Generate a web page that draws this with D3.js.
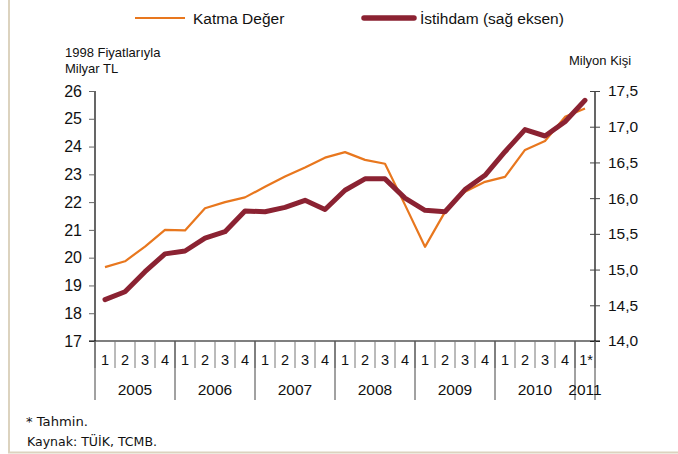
<!DOCTYPE html>
<html><head><meta charset="utf-8">
<script src="https://cdn.jsdelivr.net/npm/d3@7"></script>
<style>body{margin:0;background:#fff}svg{display:block}text{font-family:"Liberation Sans",Arial,sans-serif;fill:#111}</style>
</head><body>
<script>
const quarters = ["1","2","3","4","1","2","3","4","1","2","3","4","1","2","3","4","1","2","3","4","1","2","3","4","1*"];
const years = ["2005","2006","2007","2008","2009","2010","2011"];
const yearSpans = [4,4,4,4,4,4,1];
const katmaDeger = [19.66,19.87,20.40,21.00,20.98,21.78,22.00,22.17,22.55,22.92,23.25,23.60,23.80,23.52,23.38,21.90,20.39,21.65,22.37,22.73,22.91,23.88,24.20,25.07,25.37];
const istihdam = [14.58,14.69,14.97,15.22,15.26,15.44,15.53,15.82,15.81,15.87,15.97,15.84,16.11,16.27,16.27,16.00,15.83,15.81,16.12,16.32,16.65,16.96,16.87,17.07,17.37];
const leftTicks = [17,18,19,20,21,22,23,24,25,26];
const rightTicks = [14.0,14.5,15.0,15.5,16.0,16.5,17.0,17.5];

const W=678,H=454, L=95, R=595, T=91, B=341;
const svg = d3.select("body").append("svg").attr("width",W).attr("height",H);

// beige frame
svg.append("line").attr("x1",9).attr("x2",9).attr("y1",0).attr("y2",453).attr("stroke","#dcd3bf").attr("stroke-width",2);
svg.append("line").attr("x1",8).attr("x2",W).attr("y1",452.5).attr("y2",452.5).attr("stroke","#dcd3bf").attr("stroke-width",2);

const idx = d3.range(quarters.length);
const x = d3.scaleBand().domain(idx).range([L,R]).padding(0);
const cx = i => x(i)+x.bandwidth()/2;
const yL = d3.scaleLinear().domain([17,26]).range([B,T]);
const yR = d3.scaleLinear().domain([14,17.5]).range([B,T]);

// left axis
const gL = svg.append("g").attr("transform",`translate(${L},0)`)
  .call(d3.axisLeft(yL).tickValues(leftTicks).tickSize(6).tickPadding(7).tickFormat(d3.format("d")));
gL.select(".domain").attr("stroke","#000").attr("stroke-width",1.2).attr("d",`M0,${T}V${B}`);
gL.selectAll(".tick line").attr("stroke","#666");
gL.selectAll(".tick text").style("font-size","16px").attr("fill","#111");

// right axis
const gR = svg.append("g").attr("transform",`translate(${R},0)`)
  .call(d3.axisRight(yR).tickValues(rightTicks).tickSize(5).tickPadding(8).tickFormat(d=>d3.format(".1f")(d).replace(".",",")));
gR.select(".domain").attr("stroke","#000").attr("stroke-width",1.2).attr("d",`M0,${T}V${B}`);
gR.selectAll(".tick line").attr("stroke","#444").attr("x1",-5);
gR.selectAll(".tick text").style("font-size","15.5px").attr("fill","#111");

// bottom axis line
svg.append("line").attr("x1",L-6).attr("x2",R+5).attr("y1",B).attr("y2",B).attr("stroke","#000").attr("stroke-width",1.2);

// quarter separators
const qSep = d3.range(quarters.length+1);
svg.append("g").selectAll("line").data(qSep).join("line")
  .attr("x1",i=> i<quarters.length? x(i): R).attr("x2",i=> i<quarters.length? x(i): R)
  .attr("y1",B).attr("y2",368).attr("stroke","#777").attr("stroke-width",1);
// year separators
let cum=[0]; yearSpans.forEach(s=>cum.push(cum[cum.length-1]+s));
svg.append("g").selectAll("line").data(cum).join("line")
  .attr("x1",c=> c<quarters.length? x(c): R).attr("x2",c=> c<quarters.length? x(c): R)
  .attr("y1",B).attr("y2",400).attr("stroke","#444").attr("stroke-width",1);

// quarter labels
svg.append("g").selectAll("text").data(quarters).join("text")
  .attr("x",(d,i)=>cx(i)+(d==="1*"?1:0)).attr("y",365).attr("text-anchor","middle")
  .style("font-size","14.5px").text(d=>d);
// year labels
svg.append("g").selectAll("text").data(years).join("text")
  .attr("x",(d,i)=>(x(cum[i]) + (cum[i+1]<quarters.length? x(cum[i+1]) : R))/2)
  .attr("y",395).attr("text-anchor","middle").style("font-size","15.5px").text(d=>d);

// lines
const lineL = d3.line().x((d,i)=>cx(i)).y(d=>yL(d));
const lineR = d3.line().x((d,i)=>cx(i)).y(d=>yR(d));
svg.append("path").datum(katmaDeger).attr("d",lineL).attr("fill","none")
  .attr("stroke","#e8771e").attr("stroke-width",2.2).attr("stroke-linejoin","round");
svg.append("path").datum(istihdam).attr("d",lineR).attr("fill","none")
  .attr("stroke","#8b2232").attr("stroke-width",5).attr("stroke-linejoin","round").attr("stroke-linecap","round");

// legend
svg.append("line").attr("x1",135).attr("x2",185).attr("y1",18).attr("y2",18).attr("stroke","#e8771e").attr("stroke-width",2.2);
svg.append("text").attr("x",193).attr("y",23.5).style("font-size","15.5px").text("Katma Değer");
svg.append("line").attr("x1",364).attr("x2",414).attr("y1",18).attr("y2",18).attr("stroke","#8b2232").attr("stroke-width",5.5).attr("stroke-linecap","round");
svg.append("text").attr("x",420).attr("y",23.5).style("font-size","15.5px").text("İstihdam (sağ eksen)");

// axis titles
svg.append("text").attr("x",65).attr("y",57).style("font-size","13px").text("1998 Fiyatlarıyla");
svg.append("text").attr("x",65).attr("y",73).style("font-size","13px").text("Milyar TL");
svg.append("text").attr("x",569).attr("y",65).style("font-size","13px").text("Milyon Kişi");

// footnotes
svg.append("text").attr("x",26).attr("y",426).style("font-family","'DejaVu Sans',sans-serif").style("font-size","11.5px")
  .attr("textLength",62).attr("lengthAdjust","spacingAndGlyphs").text("* Tahmin.");
svg.append("text").attr("x",27).attr("y",445.5).style("font-family","'DejaVu Sans',sans-serif").style("font-size","11.5px")
  .attr("textLength",130).attr("lengthAdjust","spacingAndGlyphs").text("Kaynak: TÜİK, TCMB.");
</script>
</body></html>
